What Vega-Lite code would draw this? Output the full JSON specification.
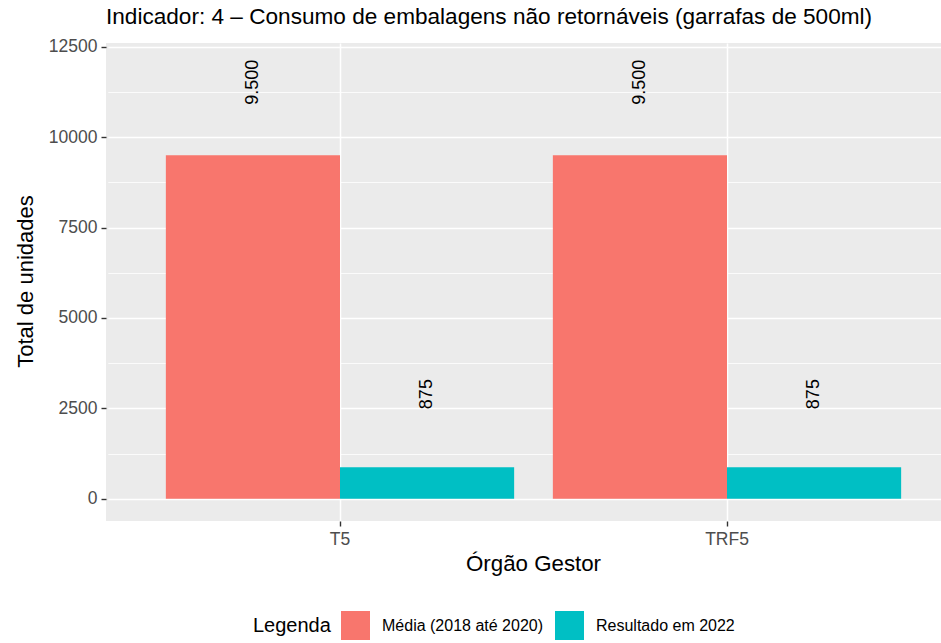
{
  "$schema": "https://vega.github.io/schema/vega-lite/v6.json",
  "width": 835,
  "height": 478,
  "autosize": {"type": "none"},
  "padding": {"left": 106, "top": 43, "right": 0, "bottom": 122},
  "config": {
    "font": "Liberation Sans",
    "view": {"fill": "#EBEBEB", "stroke": null},
    "locale": {"number": {"decimal": ",", "thousands": ".", "grouping": [3], "currency": ["R$", ""]}}
  },
  "title": {
    "text": "Indicador: 4 – Consumo de embalagens não retornáveis (garrafas de 500ml)",
    "anchor": "start",
    "frame": "group",
    "fontSize": 22.6,
    "fontWeight": "normal",
    "color": "black",
    "offset": 9
  },
  "data": {
    "values": [
      {"orgao": "T5", "serie": "Média (2018 até 2020)", "valor": 9500},
      {"orgao": "T5", "serie": "Resultado em 2022", "valor": 875},
      {"orgao": "TRF5", "serie": "Média (2018 até 2020)", "valor": 9500},
      {"orgao": "TRF5", "serie": "Resultado em 2022", "valor": 875}
    ]
  },
  "encoding": {
    "x": {
      "field": "orgao",
      "type": "nominal",
      "sort": ["T5", "TRF5"],
      "scale": {"range": [1.8, 853.2], "paddingInner": 0.1, "paddingOuter": 0.15},
      "axis": {
        "title": "Órgão Gestor",
        "labelAngle": 0,
        "bandPosition": 0.5,
        "grid": true,
        "gridColor": "white",
        "gridWidth": 1.5,
        "domain": false,
        "tickSize": 5,
        "tickColor": "#333333",
        "tickWidth": 1.4,
        "labelFontSize": 17.5,
        "labelColor": "#4D4D4D",
        "labelBaseline": "alphabetic",
        "labelPadding": 18,
        "titleFontSize": 22.3,
        "titleFontWeight": "normal",
        "titleColor": "black",
        "titleBaseline": "alphabetic",
        "titleX": 427,
        "titleY": 49.3
      }
    },
    "xOffset": {
      "field": "serie",
      "type": "nominal",
      "sort": ["Média (2018 até 2020)", "Resultado em 2022"],
      "scale": {"paddingInner": 0, "paddingOuter": 0}
    }
  },
  "layer": [
    {
      "mark": {"type": "bar"},
      "encoding": {
        "y": {
          "field": "valor",
          "type": "quantitative",
          "scale": {"domain": [-615, 12605], "nice": false, "zero": false},
          "axis": {
            "orient": "left",
            "values": [0, 2500, 5000, 7500, 10000, 12500],
            "format": "d",
            "title": "Total de unidades",
            "titleFontSize": 22,
            "titleFontWeight": "normal",
            "titleColor": "black",
            "titleAngle": 270,
            "titleBaseline": "alphabetic",
            "titleX": -74,
            "titleY": 238,
            "labelFontSize": 17.5,
            "labelColor": "#4D4D4D",
            "labelPadding": 4,
            "tickSize": 5,
            "tickColor": "#333333",
            "tickWidth": 1.4,
            "domain": false,
            "grid": true,
            "gridColor": "white",
            "gridWidth": 1.5
          }
        },
        "y2": {"datum": 0},
        "color": {
          "field": "serie",
          "type": "nominal",
          "scale": {"domain": ["Média (2018 até 2020)", "Resultado em 2022"], "range": ["#F8766D", "#00BFC4"]},
          "legend": {
            "orient": "none",
            "legendX": 147,
            "legendY": 568,
            "direction": "horizontal",
            "title": "Legenda",
            "titleOrient": "left",
            "titleFontSize": 20,
            "titleFontWeight": "normal",
            "titleColor": "black",
            "titlePadding": 10,
            "labelFontSize": 16,
            "labelColor": "black",
            "labelLimit": 0,
            "labelOffset": 12,
            "columnPadding": 12,
            "symbolType": "square",
            "symbolSize": 841,
            "symbolStrokeWidth": 0,
            "symbolOpacity": 1
          }
        }
      }
    },
    {
      "mark": {"type": "text", "angle": 270, "dx": 73, "align": "center", "baseline": "middle", "fontSize": 18, "color": "black"},
      "encoding": {
        "y": {
          "field": "valor",
          "type": "quantitative",
          "scale": {"domain": [-615, 12605], "nice": false, "zero": false},
          "axis": {
            "orient": "left",
            "values": [1250, 3750, 6250, 8750, 11250],
            "labels": false,
            "ticks": false,
            "domain": false,
            "title": null,
            "grid": true,
            "gridColor": "white",
            "gridWidth": 0.8
          }
        },
        "text": {"field": "valor", "type": "quantitative", "format": ","}
      }
    }
  ],
  "resolve": {"axis": {"y": "independent"}}
}
